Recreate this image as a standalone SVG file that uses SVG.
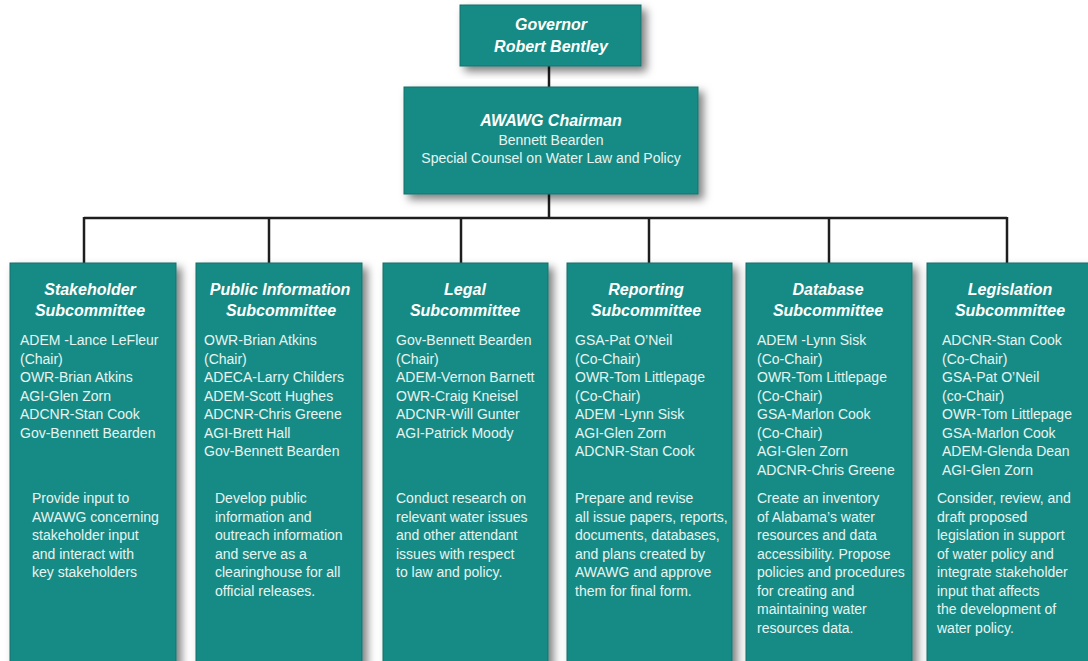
<svg xmlns="http://www.w3.org/2000/svg" width="1088" height="661" viewBox="0 0 1088 661">
<defs>
<filter id="sh" x="-10%" y="-10%" width="130%" height="130%">
<feDropShadow dx="5" dy="5" stdDeviation="4" flood-color="#000" flood-opacity="0.5"/>
</filter>
</defs>
<style>
.box{fill:#178b85;stroke:#0e6f6a;stroke-width:1;filter:url(#sh)}
.t{font-family:"Liberation Sans",Arial,sans-serif;font-weight:bold;font-style:italic;font-size:16px;fill:#ffffff;text-anchor:middle}
.m{font-family:"Liberation Sans",Arial,sans-serif;font-size:14px;fill:#e8f4f2}
.c{font-family:"Liberation Sans",Arial,sans-serif;font-size:14px;fill:#e8f4f2;text-anchor:middle}
.ln{stroke:#1e1e1e;stroke-width:2.5;fill:none}
</style>
<rect width="1088" height="661" fill="#ffffff"/>
<g id="connectors">
<line class="ln" x1="549" y1="66" x2="549" y2="87"/>
<line class="ln" x1="549" y1="194" x2="549" y2="218"/>
<line class="ln" x1="84" y1="218" x2="1007" y2="218"/>
<line class="ln" x1="84" y1="217" x2="84" y2="263"/>
<line class="ln" x1="269" y1="217" x2="269" y2="263"/>
<line class="ln" x1="461" y1="217" x2="461" y2="263"/>
<line class="ln" x1="649" y1="217" x2="649" y2="263"/>
<line class="ln" x1="829" y1="217" x2="829" y2="263"/>
<line class="ln" x1="1007" y1="217" x2="1007" y2="263"/>
</g>
<g id="governor">
<rect class="box" x="460" y="5" width="181" height="61"/>
<text class="t" x="551" y="30">Governor</text>
<text class="t" x="551" y="52">Robert Bentley</text>
</g>
<g id="chairman">
<rect class="box" x="404" y="87" width="294" height="107"/>
<text class="t" x="551" y="126">AWAWG Chairman</text>
<text class="c" x="551" y="145">Bennett Bearden</text>
<text class="c" x="551" y="163">Special Counsel on Water Law and Policy</text>
</g>
<g id="stakeholder">
<rect class="box" x="10" y="263" width="166" height="410"/>
<text class="t" x="90" y="295">Stakeholder</text>
<text class="t" x="90" y="316">Subcommittee</text>
<text class="m" x="20" y="345">ADEM -Lance LeFleur</text>
<text class="m" x="20" y="363.5">(Chair)</text>
<text class="m" x="20" y="382">OWR-Brian Atkins</text>
<text class="m" x="20" y="400.5">AGI-Glen Zorn</text>
<text class="m" x="20" y="419">ADCNR-Stan Cook</text>
<text class="m" x="20" y="437.5">Gov-Bennett Bearden</text>
<text class="m" x="32" y="503">Provide input to</text>
<text class="m" x="32" y="521.5">AWAWG concerning</text>
<text class="m" x="32" y="540">stakeholder input</text>
<text class="m" x="32" y="558.5">and interact with</text>
<text class="m" x="32" y="577">key stakeholders</text>
</g>
<g id="public-information">
<rect class="box" x="196" y="263" width="166" height="410"/>
<text class="t" x="280" y="295">Public Information</text>
<text class="t" x="281" y="316">Subcommittee</text>
<text class="m" x="204" y="345">OWR-Brian Atkins</text>
<text class="m" x="204" y="363.5">(Chair)</text>
<text class="m" x="204" y="382">ADECA-Larry Childers</text>
<text class="m" x="204" y="400.5">ADEM-Scott Hughes</text>
<text class="m" x="204" y="419">ADCNR-Chris Greene</text>
<text class="m" x="204" y="437.5">AGI-Brett Hall</text>
<text class="m" x="204" y="456">Gov-Bennett Bearden</text>
<text class="m" x="215" y="503">Develop public</text>
<text class="m" x="215" y="521.5">information and</text>
<text class="m" x="215" y="540">outreach information</text>
<text class="m" x="215" y="558.5">and serve as a</text>
<text class="m" x="215" y="577">clearinghouse for all</text>
<text class="m" x="215" y="595.5">official releases.</text>
</g>
<g id="legal">
<rect class="box" x="383" y="263" width="165" height="410"/>
<text class="t" x="465" y="295">Legal</text>
<text class="t" x="465" y="316">Subcommittee</text>
<text class="m" x="396" y="345">Gov-Bennett Bearden</text>
<text class="m" x="396" y="363.5">(Chair)</text>
<text class="m" x="396" y="382">ADEM-Vernon Barnett</text>
<text class="m" x="396" y="400.5">OWR-Craig Kneisel</text>
<text class="m" x="396" y="419">ADCNR-Will Gunter</text>
<text class="m" x="396" y="437.5">AGI-Patrick Moody</text>
<text class="m" x="396" y="503">Conduct research on</text>
<text class="m" x="396" y="521.5">relevant water issues</text>
<text class="m" x="396" y="540">and other attendant</text>
<text class="m" x="396" y="558.5">issues with respect</text>
<text class="m" x="396" y="577">to law and policy.</text>
</g>
<g id="reporting">
<rect class="box" x="567" y="263" width="165" height="410"/>
<text class="t" x="646" y="295">Reporting</text>
<text class="t" x="646" y="316">Subcommittee</text>
<text class="m" x="575" y="345">GSA-Pat O’Neil</text>
<text class="m" x="575" y="363.5">(Co-Chair)</text>
<text class="m" x="575" y="382">OWR-Tom Littlepage</text>
<text class="m" x="575" y="400.5">(Co-Chair)</text>
<text class="m" x="575" y="419">ADEM -Lynn Sisk</text>
<text class="m" x="575" y="437.5">AGI-Glen Zorn</text>
<text class="m" x="575" y="456">ADCNR-Stan Cook</text>
<text class="m" x="575" y="503">Prepare and revise</text>
<text class="m" x="575" y="521.5">all issue papers, reports,</text>
<text class="m" x="575" y="540">documents, databases,</text>
<text class="m" x="575" y="558.5">and plans created by</text>
<text class="m" x="575" y="577">AWAWG and approve</text>
<text class="m" x="575" y="595.5">them for final form.</text>
</g>
<g id="database">
<rect class="box" x="746" y="263" width="166" height="410"/>
<text class="t" x="828" y="295">Database</text>
<text class="t" x="828" y="316">Subcommittee</text>
<text class="m" x="757" y="345">ADEM -Lynn Sisk</text>
<text class="m" x="757" y="363.5">(Co-Chair)</text>
<text class="m" x="757" y="382">OWR-Tom Littlepage</text>
<text class="m" x="757" y="400.5">(Co-Chair)</text>
<text class="m" x="757" y="419">GSA-Marlon Cook</text>
<text class="m" x="757" y="437.5">(Co-Chair)</text>
<text class="m" x="757" y="456">AGI-Glen Zorn</text>
<text class="m" x="757" y="474.5">ADCNR-Chris Greene</text>
<text class="m" x="757" y="503">Create an inventory</text>
<text class="m" x="757" y="521.5">of Alabama’s water</text>
<text class="m" x="757" y="540">resources and data</text>
<text class="m" x="757" y="558.5">accessibility. Propose</text>
<text class="m" x="757" y="577">policies and procedures</text>
<text class="m" x="757" y="595.5">for creating and</text>
<text class="m" x="757" y="614">maintaining water</text>
<text class="m" x="757" y="632.5">resources data.</text>
</g>
<g id="legislation">
<rect class="box" x="927" y="263" width="170" height="410"/>
<text class="t" x="1010" y="295">Legislation</text>
<text class="t" x="1010" y="316">Subcommittee</text>
<text class="m" x="942" y="345">ADCNR-Stan Cook</text>
<text class="m" x="942" y="363.5">(Co-Chair)</text>
<text class="m" x="942" y="382">GSA-Pat O’Neil</text>
<text class="m" x="942" y="400.5">(co-Chair)</text>
<text class="m" x="942" y="419">OWR-Tom Littlepage</text>
<text class="m" x="942" y="437.5">GSA-Marlon Cook</text>
<text class="m" x="942" y="456">ADEM-Glenda Dean</text>
<text class="m" x="942" y="474.5">AGI-Glen Zorn</text>
<text class="m" x="937" y="503">Consider, review, and</text>
<text class="m" x="937" y="521.5">draft proposed</text>
<text class="m" x="937" y="540">legislation in support</text>
<text class="m" x="937" y="558.5">of water policy and</text>
<text class="m" x="937" y="577">integrate stakeholder</text>
<text class="m" x="937" y="595.5">input that affects</text>
<text class="m" x="937" y="614">the development of</text>
<text class="m" x="937" y="632.5">water policy.</text>
</g>
</svg>
